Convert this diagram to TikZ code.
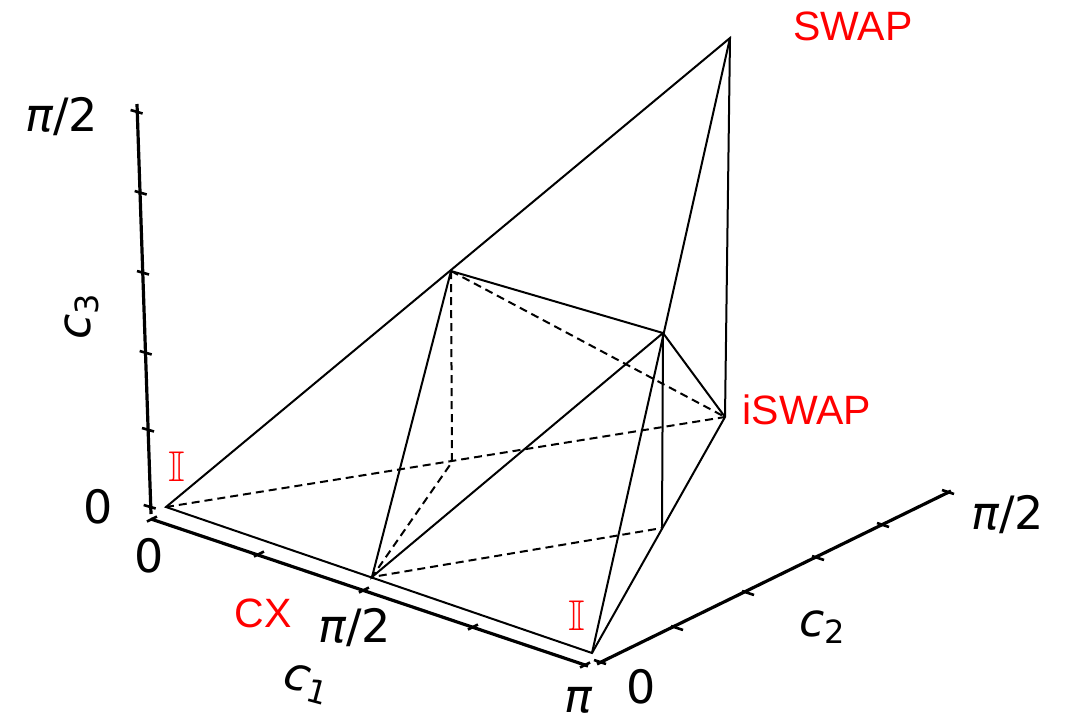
\documentclass[tikz,border=0pt]{standalone}
\usepackage{amsmath,amssymb}
\usepackage{fontspec}
\usepackage{tikz}
\usetikzlibrary{positioning,calc}
\usepackage{xcolor}
\newfontfamily\axisfont{DejaVu Sans}
\newfontfamily\gatefont{Liberation Sans}
\newcommand{\clab}[1]{{\itshape c}\raisebox{-0.3ex}{\fontsize{32}{32}\selectfont #1}}

\begin{document}
\begin{tikzpicture}[x=1pt,y=-1pt,
    edge/.style={line width=2pt},
    hidden/.style={line width=2pt,dash pattern=on 8pt off 5pt},
    axisline/.style={line width=3.2pt},
    axtick/.style={line width=2.6pt},
    lbl/.style={font=\axisfont\fontsize{46}{46}\selectfont,inner sep=0pt},
    gate/.style={text=red,font=\gatefont\fontsize{41}{41}\selectfont,inner sep=0pt},
    idlbl/.style={text=red,font=\fontsize{43}{43}\selectfont,inner sep=0pt}]

\useasboundingbox (0,0) rectangle (1076,724);

% corners of the chamber
\coordinate (id) at (166,507);
\coordinate (idb) at (592,653);
\coordinate (cx) at (372,577);
\coordinate (iswap) at (725,417);
\coordinate (swap) at (730,38);
% inner points
\coordinate (pa) at (451,271);
\coordinate (pb) at (663,333);
\coordinate (pc) at (452,462);
\coordinate (pd) at (662,528);

% axes
\coordinate (c1s) at (151,519);
\coordinate (c1e) at (588,666);
\coordinate (c2s) at (597,664);
\coordinate (c2e) at (951,491);
\coordinate (c3s) at (151,514);
\coordinate (c3e) at (137,104);
\draw[axisline] (c1s) -- (c1e);
\draw[axisline] (c2s) -- (c2e);
\draw[axisline] (c3s) -- (c3e);

\foreach \p in {(152,519),(259,554),(364,590),(473,627),(585,665)}
  \draw[axtick] \p ++(-5,2.5) -- ++(10,-5);
\foreach \p in {(600,662),(677,628),(748,593),(818,558),(883,525),(948,492)}
  \draw[axtick] \p ++(-6,-2) -- ++(12,4);
\foreach \p in {(150.7,507),(149,430),(146.7,353),(144,273),(141.7,193),(137.6,112)}
  \draw[axtick] \p ++(-7,-2) -- ++(12,3.5);

% chamber edges
\draw[edge] (id) -- (swap) -- (iswap) -- (idb) -- cycle;
\draw[edge] (swap) -- (idb);
\draw[edge] (cx) -- (pa) -- (pb) -- cycle;
\draw[edge] (pb) -- (iswap);
\draw[edge] (pb) -- (pd);
\draw[hidden] (id) -- (iswap);
\draw[hidden] (pa) -- (pc) -- (cx) -- (pd);
\draw[hidden] (pa) -- (iswap);

% axis labels
\node[lbl] (z3) at (98,507) {0};
\node[lbl] (t3) at (62,117) {{\itshape π}/2};
\node[lbl,rotate=90] (n3) at (82,317) {\clab{3}};
\node[lbl] (z1) at (149,556) {0};
\node[lbl] (h1) at (355,628) {{\itshape π}/2};
\node[lbl] (e1) at (578,700) {\itshape π};
\node[lbl,rotate=-15] (n1) at (306,684) {\clab{1}};
\node[lbl] (z2) at (641,687) {0};
\node[lbl] (h2) at (1008,515) {{\itshape π}/2};
\node[lbl] (n2) at (822,627) {\clab{2}};

% gates
\node[gate] (swapl) at (853,26) {SWAP};
\node[gate] (iswapl) at (807,410) {iSWAP};
\node[gate] (cxl) at (263,613) {CX};
\node[idlbl] (idl) at (177,467) {$\mathbb{I}$};
\node[idlbl] (idbl) at (577,616) {$\mathbb{I}$};

\end{tikzpicture}
\end{document}
